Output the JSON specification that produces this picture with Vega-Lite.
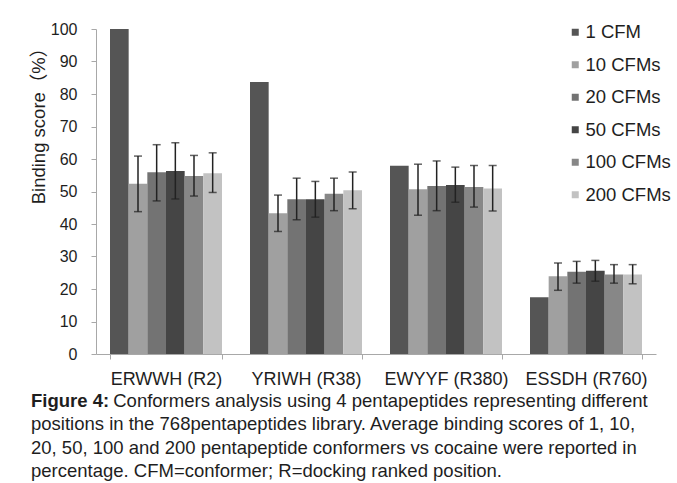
{
  "$schema": "https://vega.github.io/schema/vega-lite/v6.json",
  "width": 560,
  "height": 325,
  "autosize": {"type": "none"},
  "padding": {"left": 96, "top": 29, "right": 21, "bottom": 129},
  "background": "white",
  "config": {
    "font": "Liberation Sans",
    "view": {"stroke": null},
    "axis": {"grid": false, "domainColor": "#a8a8a8", "tickColor": "#a8a8a8", "labelColor": "#1e1e1e", "titleColor": "#1e1e1e"}
  },
  "title": {
    "text": "Figure 4:",
    "subtitle": [
      "\u200b\u00a0\u00a0\u00a0\u00a0\u00a0\u00a0\u00a0\u00a0\u00a0\u00a0\u00a0\u00a0\u00a0\u00a0\u00a0\u00a0Conformers analysis using 4 pentapeptides representing different",
      "positions in the 768pentapeptides library. Average binding scores of 1, 10,",
      "20, 50, 100 and 200 pentapeptide conformers vs cocaine were reported in",
      "percentage. CFM=conformer; R=docking ranked position."
    ],
    "orient": "bottom",
    "anchor": "start",
    "frame": "group",
    "dx": -65,
    "offset": 4,
    "font": "Liberation Sans",
    "fontSize": 18.5,
    "fontWeight": "bold",
    "color": "#1e1e1e",
    "lineHeight": 23.3,
    "subtitleFont": "Liberation Sans",
    "subtitleFontSize": 18.5,
    "subtitleFontWeight": "normal",
    "subtitleColor": "#1e1e1e",
    "subtitleLineHeight": 23.3,
    "subtitlePadding": -18.5
  },
  "data": {
    "values": [
      {"peptide": "ERWWH (R2)", "cfm": "1 CFM", "score": 100, "lo": null, "hi": null},
      {"peptide": "ERWWH (R2)", "cfm": "10 CFMs", "score": 52.4, "lo": 43.8, "hi": 60.9},
      {"peptide": "ERWWH (R2)", "cfm": "20 CFMs", "score": 55.9, "lo": 47.1, "hi": 64.4},
      {"peptide": "ERWWH (R2)", "cfm": "50 CFMs", "score": 56.3, "lo": 47.7, "hi": 65.0},
      {"peptide": "ERWWH (R2)", "cfm": "100 CFMs", "score": 54.8, "lo": 48.6, "hi": 61.1},
      {"peptide": "ERWWH (R2)", "cfm": "200 CFMs", "score": 55.6, "lo": 49.7, "hi": 61.9},
      {"peptide": "YRIWH (R38)", "cfm": "1 CFM", "score": 83.7, "lo": null, "hi": null},
      {"peptide": "YRIWH (R38)", "cfm": "10 CFMs", "score": 43.3, "lo": 37.7, "hi": 48.9},
      {"peptide": "YRIWH (R38)", "cfm": "20 CFMs", "score": 47.6, "lo": 41.3, "hi": 54.1},
      {"peptide": "YRIWH (R38)", "cfm": "50 CFMs", "score": 47.6, "lo": 42.1, "hi": 53.1},
      {"peptide": "YRIWH (R38)", "cfm": "100 CFMs", "score": 49.3, "lo": 44.1, "hi": 54.1},
      {"peptide": "YRIWH (R38)", "cfm": "200 CFMs", "score": 50.4, "lo": 44.7, "hi": 56.0},
      {"peptide": "EWYYF (R380)", "cfm": "1 CFM", "score": 57.9, "lo": null, "hi": null},
      {"peptide": "EWYYF (R380)", "cfm": "10 CFMs", "score": 50.7, "lo": 42.7, "hi": 58.4},
      {"peptide": "EWYYF (R380)", "cfm": "20 CFMs", "score": 51.7, "lo": 44.1, "hi": 59.4},
      {"peptide": "EWYYF (R380)", "cfm": "50 CFMs", "score": 52.0, "lo": 46.7, "hi": 57.5},
      {"peptide": "EWYYF (R380)", "cfm": "100 CFMs", "score": 51.4, "lo": 45.2, "hi": 58.0},
      {"peptide": "EWYYF (R380)", "cfm": "200 CFMs", "score": 50.9, "lo": 44.0, "hi": 58.0},
      {"peptide": "ESSDH (R760)", "cfm": "1 CFM", "score": 17.5, "lo": null, "hi": null},
      {"peptide": "ESSDH (R760)", "cfm": "10 CFMs", "score": 23.9, "lo": 19.6, "hi": 28.0},
      {"peptide": "ESSDH (R760)", "cfm": "20 CFMs", "score": 25.3, "lo": 21.8, "hi": 28.5},
      {"peptide": "ESSDH (R760)", "cfm": "50 CFMs", "score": 25.6, "lo": 22.4, "hi": 28.8},
      {"peptide": "ESSDH (R760)", "cfm": "100 CFMs", "score": 24.5, "lo": 21.8, "hi": 27.5},
      {"peptide": "ESSDH (R760)", "cfm": "200 CFMs", "score": 24.5, "lo": 21.6, "hi": 27.5}
    ]
  },
  "encoding": {
    "x": {
      "field": "peptide",
      "type": "nominal",
      "sort": null,
      "scale": {"paddingInner": 0.2, "paddingOuter": 0.1},
      "axis": {
        "title": null,
        "labelAngle": 0,
        "tickBand": "extent",
        "tickSize": 5,
        "labelFontSize": 18,
        "labelPadding": 11
      }
    },
    "xOffset": {
      "field": "cfm",
      "type": "nominal",
      "scale": {"domain": ["1 CFM", "10 CFMs", "20 CFMs", "50 CFMs", "100 CFMs", "200 CFMs"]}
    }
  },
  "layer": [
    {
      "mark": {"type": "bar"},
      "encoding": {
        "y": {
          "field": "score",
          "type": "quantitative",
          "scale": {"domain": [0, 100], "nice": false},
          "axis": {
            "title": "Binding score（%）",
            "values": [0, 10, 20, 30, 40, 50, 60, 70, 80, 90, 100],
            "labelOverlap": false,
            "tickSize": 5,
            "labelFontSize": 16,
            "labelPadding": 14,
            "titleFontSize": 18.5,
            "titleFontWeight": "normal",
            "titleFont": "Liberation Sans, Noto Sans CJK SC",
            "titleAngle": -90,
            "titleAlign": "center",
            "titleBaseline": "middle",
            "titleX": -58,
            "titleY": 92
          }
        },
        "color": {
          "field": "cfm",
          "type": "nominal",
          "scale": {
            "domain": ["1 CFM", "10 CFMs", "20 CFMs", "50 CFMs", "100 CFMs", "200 CFMs"],
            "range": ["#555555", "#a0a0a0", "#737373", "#454545", "#878787", "#c2c2c2"]
          },
          "legend": {
            "title": null,
            "orient": "none",
            "legendX": 470,
            "legendY": -6,
            "symbolType": "square",
            "symbolSize": 49,
            "symbolStrokeWidth": 0,
            "labelFontSize": 18.5,
            "labelColor": "#1e1e1e",
            "labelOffset": 1,
            "rowPadding": 13.5
          }
        }
      }
    },
    {
      "transform": [{"filter": "datum.lo != null"}],
      "mark": {"type": "rule", "color": "#222222", "strokeWidth": 1.5},
      "encoding": {
        "y": {
          "field": "lo",
          "type": "quantitative",
          "axis": {
            "title": "Binding score（%）",
            "values": [0, 10, 20, 30, 40, 50, 60, 70, 80, 90, 100],
            "labelOverlap": false,
            "tickSize": 5,
            "labelFontSize": 16,
            "labelPadding": 14,
            "titleFontSize": 18.5,
            "titleFontWeight": "normal",
            "titleFont": "Liberation Sans, Noto Sans CJK SC",
            "titleAngle": -90,
            "titleAlign": "center",
            "titleBaseline": "middle",
            "titleX": -58,
            "titleY": 92
          }
        },
        "y2": {"field": "hi"}
      }
    },
    {
      "transform": [{"filter": "datum.lo != null"}],
      "mark": {"type": "tick", "color": "#222222", "size": 8, "thickness": 1.5, "orient": "horizontal"},
      "encoding": {
        "y": {
          "field": "lo",
          "type": "quantitative",
          "axis": {
            "title": "Binding score（%）",
            "values": [0, 10, 20, 30, 40, 50, 60, 70, 80, 90, 100],
            "labelOverlap": false,
            "tickSize": 5,
            "labelFontSize": 16,
            "labelPadding": 14,
            "titleFontSize": 18.5,
            "titleFontWeight": "normal",
            "titleFont": "Liberation Sans, Noto Sans CJK SC",
            "titleAngle": -90,
            "titleAlign": "center",
            "titleBaseline": "middle",
            "titleX": -58,
            "titleY": 92
          }
        }
      }
    },
    {
      "transform": [{"filter": "datum.lo != null"}],
      "mark": {"type": "tick", "color": "#222222", "size": 8, "thickness": 1.5, "orient": "horizontal"},
      "encoding": {
        "y": {
          "field": "hi",
          "type": "quantitative",
          "axis": {
            "title": "Binding score（%）",
            "values": [0, 10, 20, 30, 40, 50, 60, 70, 80, 90, 100],
            "labelOverlap": false,
            "tickSize": 5,
            "labelFontSize": 16,
            "labelPadding": 14,
            "titleFontSize": 18.5,
            "titleFontWeight": "normal",
            "titleFont": "Liberation Sans, Noto Sans CJK SC",
            "titleAngle": -90,
            "titleAlign": "center",
            "titleBaseline": "middle",
            "titleX": -58,
            "titleY": 92
          }
        }
      }
    }
  ]
}
